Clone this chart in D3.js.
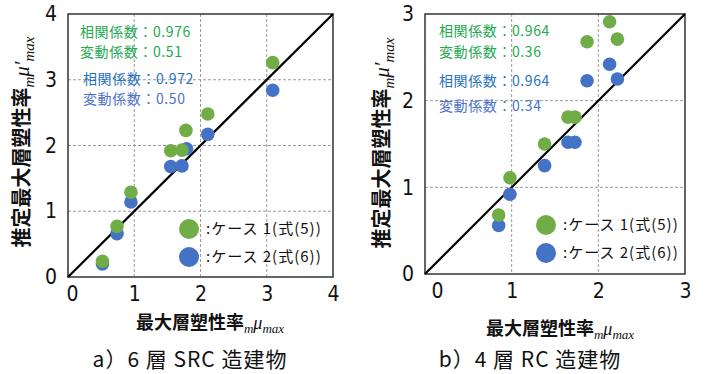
<!DOCTYPE html>
<html>
<head>
<meta charset="utf-8">
<script src="https://cdn.jsdelivr.net/npm/d3@7"></script>
<style>
  body { margin: 0; background: #fff; }
  svg { display: block; }
  .tick text { font-family: "Liberation Sans Narrow", "DejaVu Sans Condensed", "Liberation Sans", sans-serif; }
</style>
</head>
<body>
<svg id="canvas" width="705" height="374"></svg>
<script>
// panel a) 6層SRC造建物
let srcMeasured = [0.52, 0.74, 0.95, 1.55, 1.72, 1.78, 2.11, 3.09]
let srcCase1 = [0.24, 0.77, 1.29, 1.92, 1.93, 2.23, 2.48, 3.26]
let srcMeasured2 = [0.52, 0.74, 0.95, 1.55, 1.72, 1.79, 2.11, 3.09]
let srcCase2 = [0.20, 0.66, 1.14, 1.68, 1.69, 1.95, 2.17, 2.84]
let srcTicks = [0, 1, 2, 3, 4]
let srcStats = ['相関係数：0.976', '変動係数：0.51', '相関係数：0.972', '変動係数：0.50']

// panel b) 4層RC造建物
let rcMeasured = [0.85, 0.98, 1.38, 1.65, 1.73, 1.87, 2.13, 2.22]
let rcCase1 = [0.68, 1.11, 1.50, 1.81, 1.81, 2.68, 2.91, 2.71]
let rcCase2 = [0.56, 0.92, 1.25, 1.52, 1.52, 2.23, 2.42, 2.25]
let rcTicks = [0, 1, 2, 3]
let rcStats = ['相関係数：0.964', '変動係数：0.36', '相関係数：0.964', '変動係数：0.34']

let legendLabels = [':ケース 1(式(5))', ':ケース 2(式(6))']

let green = '#70ad47'
let blue = '#4472c4'
let statColors = ['#22a94f', '#22a94f', '#1f73c4', '#4a72cc']

let canvas = d3.select('#canvas')
let cjk = '"Noto Sans CJK JP", sans-serif'

let drawPanel = (p) => {
    let x = d3.scaleLinear().domain([0, p.max]).range([p.left, p.right])
    let y = d3.scaleLinear().domain([0, p.max]).range([p.bottom, p.top])
    let g = canvas.append('g')

    // grid
    let inner = p.ticks.filter((t) => t > 0 && t < p.max)
    g.selectAll('.vgrid').data(inner).enter().append('line')
      .attr('x1', (d) => x(d)).attr('x2', (d) => x(d))
      .attr('y1', p.top).attr('y2', p.bottom)
      .attr('stroke', '#9a9a9a').attr('stroke-dasharray', '3,2')
    g.selectAll('.hgrid').data(inner).enter().append('line')
      .attr('y1', (d) => y(d)).attr('y2', (d) => y(d))
      .attr('x1', p.left).attr('x2', p.right)
      .attr('stroke', '#9a9a9a').attr('stroke-dasharray', '3,2')

    // axes (labels only)
    let xAxis = g.append('g').attr('transform', 'translate(0,' + p.bottom + ')')
      .call(d3.axisBottom(x).tickValues(p.ticks).tickSize(0).tickPadding(9).tickFormat(d3.format('d')))
    let yAxis = g.append('g').attr('transform', 'translate(' + p.left + ',0)')
      .call(d3.axisLeft(y).tickValues(p.ticks).tickSize(0).tickPadding(11).tickFormat(d3.format('d')))
    xAxis.select('.domain').remove()
    yAxis.select('.domain').remove()
    g.selectAll('.tick text').attr('font-size', 21).attr('fill', '#111')
    xAxis.selectAll('.tick text').filter((d) => d === 0).attr('dx', p.zeroShift)

    // frame
    g.append('rect')
      .attr('x', p.left).attr('y', p.top)
      .attr('width', p.right - p.left).attr('height', p.bottom - p.top)
      .attr('fill', 'none').attr('stroke', '#333').attr('stroke-width', 1.5)

    // 1:1 line
    g.append('line')
      .attr('x1', x(0)).attr('y1', y(0)).attr('x2', x(p.max)).attr('y2', y(p.max))
      .attr('stroke', '#000').attr('stroke-width', 2.2)

    // points
    g.selectAll('.c2').data(p.case2).enter().append('circle')
      .attr('cx', (d, i) => x(p.measured2[i])).attr('cy', (d) => y(d))
      .attr('r', 6.8).attr('fill', blue)
    g.selectAll('.c1').data(p.case1).enter().append('circle')
      .attr('cx', (d, i) => x(p.measured[i])).attr('cy', (d) => y(d))
      .attr('r', 6.8).attr('fill', green)

    // stats text
    g.selectAll('.stat').data(p.stats).enter().append('text')
      .attr('x', (d, i) => p.statX[i]).attr('y', (d, i) => p.statY[i])
      .attr('dy', '0.35em')
      .attr('font-family', cjk).attr('font-size', 14).attr('letter-spacing', 0.6)
      .attr('fill', (d, i) => statColors[i])
      .text((d) => d)

    // legend
    let legend = g.selectAll('.legend').data(legendLabels).enter().append('g')
      .attr('transform', (d, i) => 'translate(' + p.legendX + ',' + p.legendY[i] + ')')
    legend.append('circle').attr('r', 10).attr('fill', (d, i) => i === 0 ? green : blue)
    legend.append('text').attr('x', 17).attr('dy', '0.35em')
      .attr('font-family', cjk).attr('font-size', 15).attr('letter-spacing', 1).attr('fill', '#111')
      .text((d) => d)

    // axis titles
    let yt = canvas.append('text')
      .attr('transform', 'translate(' + p.yTitleX + ',' + p.yTitleY + ') rotate(-90)')
      .attr('text-anchor', 'middle').attr('dy', '0.35em')
      .attr('font-family', cjk).attr('font-size', 20).attr('font-weight', 'bold').attr('fill', '#111')
    yt.append('tspan').text('推定最大層塑性率')
    yt.append('tspan').attr('font-family', 'serif').attr('font-style', 'italic').attr('font-weight', 'normal')
      .attr('font-size', 15).attr('dy', '5').text('m')
    yt.append('tspan').attr('font-family', 'serif').attr('font-style', 'italic').attr('font-weight', 'normal')
      .attr('font-size', 21).attr('dy', '-5').text('μ′')
    yt.append('tspan').attr('font-family', 'serif').attr('font-style', 'italic').attr('font-weight', 'normal')
      .attr('font-size', 15).attr('dy', '5').text('max')

    let xt = canvas.append('text')
      .attr('x', p.xTitleX).attr('y', p.xTitleY)
      .attr('text-anchor', 'middle')
      .attr('font-family', cjk).attr('font-size', 18).attr('font-weight', 'bold').attr('fill', '#111')
    xt.append('tspan').text('最大層塑性率')
    xt.append('tspan').attr('font-family', 'serif').attr('font-style', 'italic').attr('font-weight', 'normal')
      .attr('font-size', 13).attr('dy', '4').text('m')
    xt.append('tspan').attr('font-family', 'serif').attr('font-style', 'italic').attr('font-weight', 'normal')
      .attr('font-size', 18).attr('dy', '-4').text('μ')
    xt.append('tspan').attr('font-family', 'serif').attr('font-style', 'italic').attr('font-weight', 'normal')
      .attr('font-size', 13).attr('dy', '4').text('max')

    canvas.append('text')
      .attr('x', p.capX).attr('y', 360).attr('dy', '0.35em')
      .attr('text-anchor', 'middle')
      .attr('font-family', '"Liberation Sans Narrow", "Noto Sans CJK JP", sans-serif')
      .attr('font-size', 21).attr('letter-spacing', 1).attr('fill', '#111')
      .text(p.caption)
}

drawPanel({
    max: 4, ticks: srcTicks, left: 68, right: 333, top: 14, bottom: 277,
    measured: srcMeasured, measured2: srcMeasured2, case1: srcCase1, case2: srcCase2,
    stats: srcStats, statX: [80, 80, 83, 83], statY: [32, 52, 79, 99],
    legendX: 189, legendY: [229, 257], zeroShift: 4,
    yTitleX: 22, yTitleY: 142, xTitleX: 210, xTitleY: 329,
    capX: 190, caption: 'a）6 層 SRC 造建物'
})

drawPanel({
    max: 3, ticks: rcTicks, left: 425, right: 685, top: 14, bottom: 274,
    measured: rcMeasured, measured2: rcMeasured, case1: rcCase1, case2: rcCase2,
    stats: rcStats, statX: [439, 439, 439, 439], statY: [31, 52, 81, 106],
    legendX: 546, legendY: [225, 253], zeroShift: 12,
    yTitleX: 382, yTitleY: 143, xTitleX: 560, xTitleY: 335,
    capX: 530, caption: 'b）4 層 RC 造建物'
})
</script>
</body>
</html>
